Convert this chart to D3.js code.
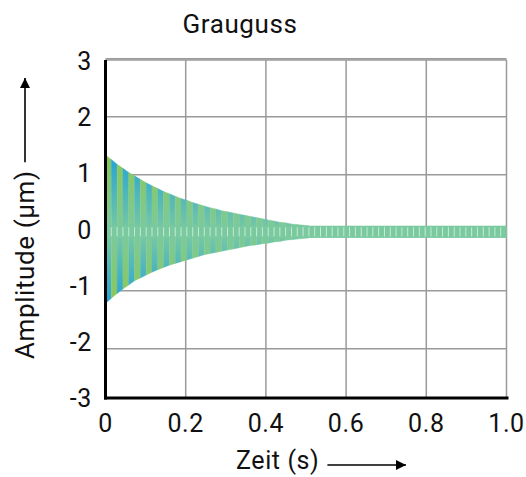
<!DOCTYPE html>
<html>
<head>
<meta charset="utf-8">
<script src="https://cdn.jsdelivr.net/npm/d3@7"></script>
<style>
  body { margin: 0; background: #fff; }
  text { font-family: Roboto, "DejaVu Sans", sans-serif; fill: #111; letter-spacing: 0.6px; }
</style>
</head>
<body>
<div id="wrapper"></div>
<script>
// envelope of the decaying vibration (upper and lower edge), one value per stripe edge
const envTop = [1.34, 1.26, 1.18, 1.11, 1.04, 0.98, 0.92, 0.86, 0.81, 0.76, 0.71, 0.67,
  0.63, 0.59, 0.56, 0.52, 0.49, 0.46, 0.43, 0.41, 0.38, 0.36, 0.34, 0.32, 0.30, 0.28,
  0.26, 0.24, 0.22, 0.20, 0.18, 0.17, 0.15, 0.14, 0.13, 0.12];
const envBottom = [-1.22, -1.13, -1.05, -0.97, -0.90, -0.83, -0.78, -0.73, -0.68, -0.64,
  -0.60, -0.56, -0.53, -0.50, -0.47, -0.44, -0.41, -0.38, -0.36, -0.34, -0.32, -0.30,
  -0.28, -0.26, -0.24, -0.22, -0.21, -0.19, -0.18, -0.16, -0.15, -0.13, -0.12, -0.11,
  -0.10, -0.09];
// steady residual band after the decay
const bandHigh = 0.12;
const bandLow = -0.09;
const barCount = 69;
const xTicks = [0, 0.2, 0.4, 0.6, 0.8, 1.0];
const yTicks = [-3, -2, -1, 0, 1, 2, 3];

const step = 1 / barCount;

let dimensions = {
  width: 526,
  height: 477,
  left: 105.5,
  right: 506.5,
  top: 60,
  bottom: 398
}

let svg = d3.select("#wrapper").append("svg")
    .attr("width", dimensions.width)
    .attr("height", dimensions.height);

let xScale = d3.scaleLinear().domain([0, 1]).range([dimensions.left, dimensions.right]);
// data / grid scale and tick-label scale
let yScale = d3.scaleLinear().domain([-3, 3]).range([406.7, 58.7]);
let yLabel = d3.scaleLinear().domain([-3, 3]).range([dimensions.bottom, 61]);

const green = "#8cc753";
const blue = "#22a2d8";
const mint = "#7bca9f";

// gradients
let defs = svg.append("defs");
function makeGrad(id, topCol, botCol) {
  let y1 = yScale(d3.max(envTop)), y2 = yScale(d3.min(envBottom));
  let mid = (yScale(0) - y1) / (y2 - y1);
  let g = defs.append("linearGradient")
      .attr("id", id)
      .attr("gradientUnits", "userSpaceOnUse")
      .attr("x1", 0).attr("x2", 0)
      .attr("y1", y1).attr("y2", y2);
  g.append("stop").attr("offset", 0).attr("stop-color", topCol);
  g.append("stop").attr("offset", mid).attr("stop-color", mint);
  g.append("stop").attr("offset", 1).attr("stop-color", botCol);
}
makeGrad("gradA", green, blue);
makeGrad("gradB", blue, green);

// grid
let grid = svg.append("g").attr("stroke", "#9a9a9a").attr("stroke-width", 1.5);
grid.selectAll(".vx").data(xTicks.filter(d => d > 0)).enter()
    .append("line")
    .attr("x1", d => xScale(d)).attr("x2", d => xScale(d))
    .attr("y1", dimensions.top).attr("y2", dimensions.bottom);
grid.selectAll(".hy").data(yTicks.filter(d => d > -3 && d !== 0)).enter()
    .append("line")
    .attr("x1", dimensions.left).attr("x2", xScale(1))
    .attr("y1", d => yScale(d)).attr("y2", d => yScale(d));
grid.append("line")
    .attr("x1", dimensions.left).attr("x2", xScale(1))
    .attr("y1", dimensions.top).attr("y2", dimensions.top);

// decaying stripes
let pts = envTop.map((v, i) => ({ t: i * step, hi: v, lo: envBottom[i] }));
let area = d3.area()
    .x(d => xScale(d.t))
    .y0(d => yScale(d.lo))
    .y1(d => yScale(d.hi));
svg.append("g").selectAll("path")
    .data(d3.range(pts.length - 1))
    .enter()
    .append("path")
    .attr("d", i => area([pts[i], pts[i + 1]]))
    .attr("fill", i => i % 2 === 0 ? "url(#gradA)" : "url(#gradB)")
    .attr("stroke", i => i % 2 === 0 ? "url(#gradA)" : "url(#gradB)")
    .attr("stroke-width", 0.4);

// residual band
let band = svg.append("g");
band.selectAll("rect").data(d3.range(barCount)).enter()
    .append("rect")
    .attr("x", i => xScale(i * step))
    .attr("width", xScale(step) - xScale(0) + 0.3)
    .attr("y", yScale(bandHigh))
    .attr("height", yScale(bandLow) - yScale(bandHigh))
    .attr("fill", mint);
band.selectAll("line").data(d3.range(1, barCount)).enter()
    .append("line")
    .attr("x1", i => xScale(i * step)).attr("x2", i => xScale(i * step))
    .attr("y1", yScale(bandHigh) + 1.5).attr("y2", yScale(bandLow) - 1.5)
    .attr("stroke", "#d8f0e3")
    .attr("stroke-width", 0.8);

// axes
svg.append("line")
    .attr("x1", dimensions.left).attr("x2", dimensions.left)
    .attr("y1", dimensions.top).attr("y2", dimensions.bottom + 1.5)
    .attr("stroke", "#000").attr("stroke-width", 3);
svg.append("line")
    .attr("x1", dimensions.left - 1.5).attr("x2", xScale(1) + 2)
    .attr("y1", dimensions.bottom).attr("y2", dimensions.bottom)
    .attr("stroke", "#000").attr("stroke-width", 3);

// tick labels
svg.append("g").selectAll("text").data(xTicks).enter()
    .append("text")
    .attr("x", d => xScale(d))
    .attr("y", 432)
    .attr("text-anchor", "middle")
    .style("font-size", "25px")
    .text(d => d === 0 ? "0" : d.toFixed(1));
svg.append("g").selectAll("text").data(yTicks).enter()
    .append("text")
    .attr("x", 92)
    .attr("y", d => yLabel(d))
    .attr("dy", "0.36em")
    .attr("text-anchor", "end")
    .style("font-size", "25px")
    .text(d => d);

// Title
svg.append("text")
    .attr("x", 240)
    .attr("y", 33)
    .attr("text-anchor", "middle")
    .style("font-size", "26px")
    .text("Grauguss");

// arrow marker
defs.append("marker")
    .attr("id", "arrow")
    .attr("viewBox", "0 0 10 10")
    .attr("refX", 10).attr("refY", 5)
    .attr("markerWidth", 17).attr("markerHeight", 10)
    .attr("markerUnits", "userSpaceOnUse")
    .attr("orient", "auto")
    .append("path")
    .attr("d", "M0,0 L10,5 L0,10 Z")
    .attr("fill", "#000");

// X label
let xLab = svg.append("text")
    .attr("x", 236)
    .attr("y", 469)
    .style("font-size", "25px")
    .text("Zeit (s)");
let xEnd = 236 + xLab.node().getComputedTextLength();
svg.append("line")
    .attr("x1", xEnd + 8).attr("x2", 406)
    .attr("y1", 465).attr("y2", 465)
    .attr("stroke", "#000").attr("stroke-width", 1.6)
    .attr("marker-end", "url(#arrow)");

// Y label
let yLab = svg.append("text")
    .attr("transform", "translate(34, 359) rotate(-90)")
    .style("font-size", "26px")
    .text("Amplitude (µm)");
let yEnd = 359 - yLab.node().getComputedTextLength();
svg.append("line")
    .attr("x1", 25).attr("x2", 25)
    .attr("y1", yEnd - 8).attr("y2", 78)
    .attr("stroke", "#000").attr("stroke-width", 1.6)
    .attr("marker-end", "url(#arrow)");
</script>
</body>
</html>
